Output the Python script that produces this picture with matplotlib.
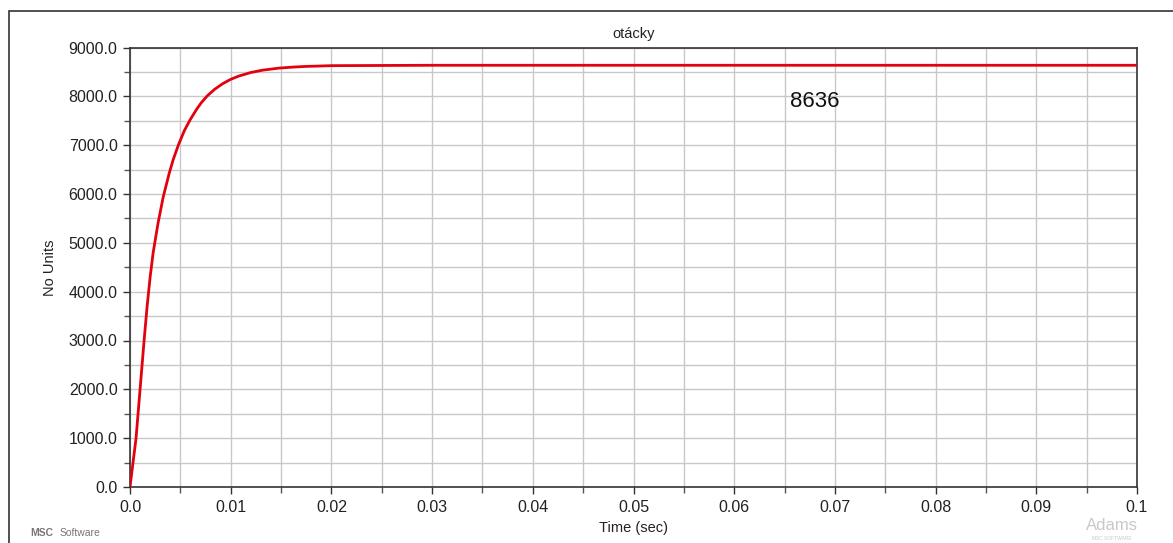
#!/usr/bin/env python3
"""Adams-style time history plot: otacky (speed) vs time."""

import matplotlib

matplotlib.use("Agg")
import matplotlib.pyplot as plt
from matplotlib.patches import Rectangle
from matplotlib.ticker import FixedLocator, MultipleLocator

# curve points
TIME = [0.0, 0.0003, 0.0006, 0.001, 0.0014, 0.0017, 0.002, 0.0023, 0.0028,
        0.0033, 0.0039, 0.0043, 0.0048, 0.0054, 0.006, 0.0066, 0.0071,
        0.0077, 0.0084, 0.0092, 0.01, 0.0108, 0.012, 0.0132, 0.0148, 0.0162,
        0.0175, 0.019, 0.02, 0.03, 0.04, 0.05, 0.06, 0.07, 0.08, 0.09, 0.1]
SPEED = [0.0, 500.0, 1000.0, 2000.0, 3000.0, 3700.0, 4300.0, 4800.0, 5420.0,
         5940.0, 6430.0, 6710.0, 7000.0, 7300.0, 7530.0, 7730.0, 7875.0,
         8015.0, 8143.0, 8259.0, 8348.0, 8415.0, 8488.0, 8537.0, 8578.0,
         8599.0, 8613.0, 8622.0, 8628.0, 8636.0, 8636.0, 8636.0, 8636.0,
         8636.0, 8636.0, 8636.0, 8636.0]

X_TICKS = [0.0, 0.01, 0.02, 0.03, 0.04, 0.05, 0.06, 0.07, 0.08, 0.09, 0.1]
X_LABELS = ["0.0", "0.01", "0.02", "0.03", "0.04", "0.05", "0.06", "0.07",
            "0.08", "0.09", "0.1"]
Y_TICKS = [0, 1000, 2000, 3000, 4000, 5000, 6000, 7000, 8000, 9000]
FINAL_VALUE = "8636"
FINAL_POS = (0.068, 7900)

W, H = 1173, 543

plt.rcParams["font.family"] = ["Liberation Sans", "DejaVu Sans"]

fig = plt.figure(figsize=(W / 100, H / 100), dpi=100, facecolor="white")

# outer frame (only top and left edges visible in the reference)
fig.patches.append(Rectangle((9 / W, -0.1), 1.2, 1 - 11 / H + 0.1,
                             transform=fig.transFigure, fill=False,
                             edgecolor="#333333", linewidth=1.2))

left, right, top, bottom = 130, 1137, 47.5, 487
ax = fig.add_axes([left / W, 1 - bottom / H, (right - left) / W, (bottom - top) / H])

ax.plot(TIME, SPEED, color="#e3000f", linewidth=2.0, solid_joinstyle="round", zorder=3)

ax.set_xlim(0, 0.1)
ax.set_ylim(0, 9000)
ax.xaxis.set_major_locator(FixedLocator(X_TICKS))
ax.set_xticklabels(X_LABELS)
ax.xaxis.set_minor_locator(MultipleLocator(0.005))
ax.yaxis.set_major_locator(FixedLocator(Y_TICKS))
ax.set_yticklabels([f"{v:.1f}" for v in Y_TICKS])
ax.yaxis.set_minor_locator(MultipleLocator(500))

ax.grid(True, which="both", color="#c8c8c8", linewidth=1.0)
ax.set_axisbelow(True)
ax.tick_params(which="major", direction="out", length=5, width=1, color="#333333",
               labelsize=11.5, labelcolor="#222222", pad=4)
ax.tick_params(which="minor", direction="out", length=4, width=1, color="#555555")
for sp in ax.spines.values():
    sp.set_color("#333333")
    sp.set_linewidth(1.2)

ax.set_title("otácky", fontsize=10.5, color="#222222", pad=7)
ax.set_ylabel("No Units", fontsize=10.5, color="#222222", labelpad=8)
ax.set_xlabel("Time (sec)", fontsize=10.5, color="#222222", labelpad=5)

ax.text(FINAL_POS[0], FINAL_POS[1], FINAL_VALUE, fontsize=16, color="#111111",
        ha="center", va="center")

# vendor marks
fig.text(30 / W, 1 - 533 / H, "MSC", fontsize=7.5, color="#777777",
         ha="left", va="center", fontweight="bold")
fig.text(60 / W, 1 - 533 / H, "Software", fontsize=7.5, color="#777777",
         ha="left", va="center")
fig.text(1112 / W, 1 - 525 / H, "Adams", fontsize=12, color="#c8c8c8",
         ha="center", va="center")
fig.text(1112 / W, 1 - 538 / H, "MSC SOFTWARE", fontsize=3.5, color="#c8c8c8",
         ha="center", va="center")

fig.savefig("out.png", dpi=100, facecolor="white")
